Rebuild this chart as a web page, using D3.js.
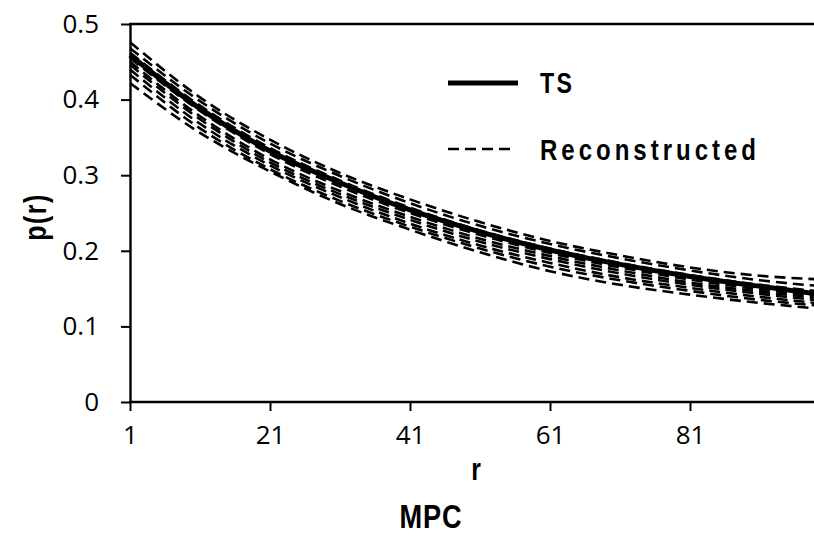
<!DOCTYPE html>
<html>
<head>
<meta charset="utf-8">
<script src="https://cdn.jsdelivr.net/npm/d3@7"></script>
<style>
  html, body { margin: 0; padding: 0; background: #fff; }
  svg { display: block; }
  .tick text { font-family: "Open Sans", "Noto Sans", sans-serif; font-size: 26px; fill: #000; }
  .lbl { font-family: "Liberation Sans", Arial, sans-serif; font-weight: bold; fill: #000; }
</style>
</head>
<body>
<div id="chart"></div>
<script>
// sample positions along r
const rValues = [1, 11, 21, 31, 41, 51, 61, 71, 81, 91, 100];

const tsValues = [0.459, 0.388, 0.332, 0.290, 0.254, 0.225, 0.201, 0.182, 0.166, 0.153, 0.142];

const reconstructed = [
    [0.476, 0.403, 0.347, 0.303, 0.268, 0.238, 0.213, 0.194, 0.178, 0.167, 0.162],
    [0.468, 0.398, 0.342, 0.299, 0.263, 0.233, 0.209, 0.190, 0.174, 0.161, 0.153],
    [0.462, 0.392, 0.336, 0.293, 0.257, 0.227, 0.203, 0.184, 0.168, 0.155, 0.146],
    [0.455, 0.385, 0.328, 0.285, 0.250, 0.221, 0.197, 0.178, 0.162, 0.149, 0.140],
    [0.450, 0.378, 0.321, 0.279, 0.245, 0.216, 0.193, 0.174, 0.158, 0.146, 0.137],
    [0.446, 0.374, 0.317, 0.275, 0.241, 0.212, 0.189, 0.170, 0.155, 0.143, 0.134],
    [0.440, 0.368, 0.313, 0.271, 0.236, 0.207, 0.184, 0.165, 0.151, 0.139, 0.130],
    [0.433, 0.362, 0.308, 0.266, 0.232, 0.203, 0.179, 0.161, 0.147, 0.135, 0.127],
    [0.422, 0.356, 0.305, 0.262, 0.228, 0.198, 0.173, 0.155, 0.142, 0.131, 0.123]
];

const xTicks = [1, 21, 41, 61, 81];
const yTicks = [0, 0.1, 0.2, 0.3, 0.4, 0.5];

const W = 814, H = 537;
const x0 = 130, yTop = 24, yBottom = 402;

const svg = d3.select('#chart').append('svg')
    .attr('width', W)
    .attr('height', H);

const x = d3.scaleLinear().domain([1, 100]).range([x0, x0 + 99 * 7]);
const y = d3.scaleLinear().domain([0, 0.5]).range([yBottom, yTop]);

const line = d3.line()
    .x((d, i) => x(rValues[i]))
    .y(d => y(d))
    .curve(d3.curveMonotoneX);

// Reconstructed (dashed)
reconstructed.forEach(series => {
    svg.append('path')
        .datum(series)
        .attr('fill', 'none')
        .attr('stroke', '#000')
        .attr('stroke-width', 2.6)
        .attr('stroke-dasharray', '11,6')
        .attr('d', line);
});

// TS (solid)
svg.append('path')
    .datum(tsValues)
    .attr('fill', 'none')
    .attr('stroke', '#000')
    .attr('stroke-width', 5)
    .attr('d', line);

// Axes
const yAxis = svg.append('g')
    .attr('transform', `translate(${x0},0)`)
    .call(d3.axisLeft(y).tickValues(yTicks).tickFormat(d => d === 0 ? '0' : d3.format('.1f')(d)).tickSize(9).tickSizeOuter(0).tickPadding(22));

const xAxis = svg.append('g')
    .attr('transform', `translate(0,${yBottom})`)
    .call(d3.axisBottom(x).tickValues(xTicks).tickFormat(d3.format('d')).tickSize(9).tickSizeOuter(0).tickPadding(15));

[yAxis, xAxis].forEach(g => {
    g.select('.domain').attr('stroke', '#000').attr('stroke-width', 2.4);
    g.selectAll('.tick line').attr('stroke', '#000').attr('stroke-width', 2);
});
xAxis.select('.domain').attr('d', `M${x0 - 1},0H${W}`);

// Top frame line
svg.append('line')
    .attr('x1', x0 - 1).attr('x2', W)
    .attr('y1', y(0.5)).attr('y2', y(0.5))
    .attr('stroke', '#000').attr('stroke-width', 2.4);

// condensed bold label helper
function label(px, py, txt, size, spacing, rotate) {
    const rot = rotate ? ' rotate(-90)' : '';
    return svg.append('text').attr('class', 'lbl')
        .attr('transform', `translate(${px},${py})${rot} scale(0.8,1)`)
        .style('font-size', size + 'px')
        .style('letter-spacing', spacing + 'px')
        .text(txt);
}

// Axis titles
label(476, 480, 'r', 31, 0).attr('text-anchor', 'middle');
label(431, 528, 'MPC', 34, 1).attr('text-anchor', 'middle');
label(46, 217, 'p(r)', 31, 2, true).attr('text-anchor', 'middle');

// Legend
svg.append('line')
    .attr('x1', 448).attr('x2', 518).attr('y1', 83).attr('y2', 83)
    .attr('stroke', '#000').attr('stroke-width', 5);
label(540, 93, 'TS', 29, 3);
svg.append('line')
    .attr('x1', 448).attr('x2', 514).attr('y1', 149).attr('y2', 149)
    .attr('stroke', '#000').attr('stroke-width', 2.6)
    .attr('stroke-dasharray', '11,6');
label(540, 160, 'Reconstructed', 30, 5);
</script>
</body>
</html>
